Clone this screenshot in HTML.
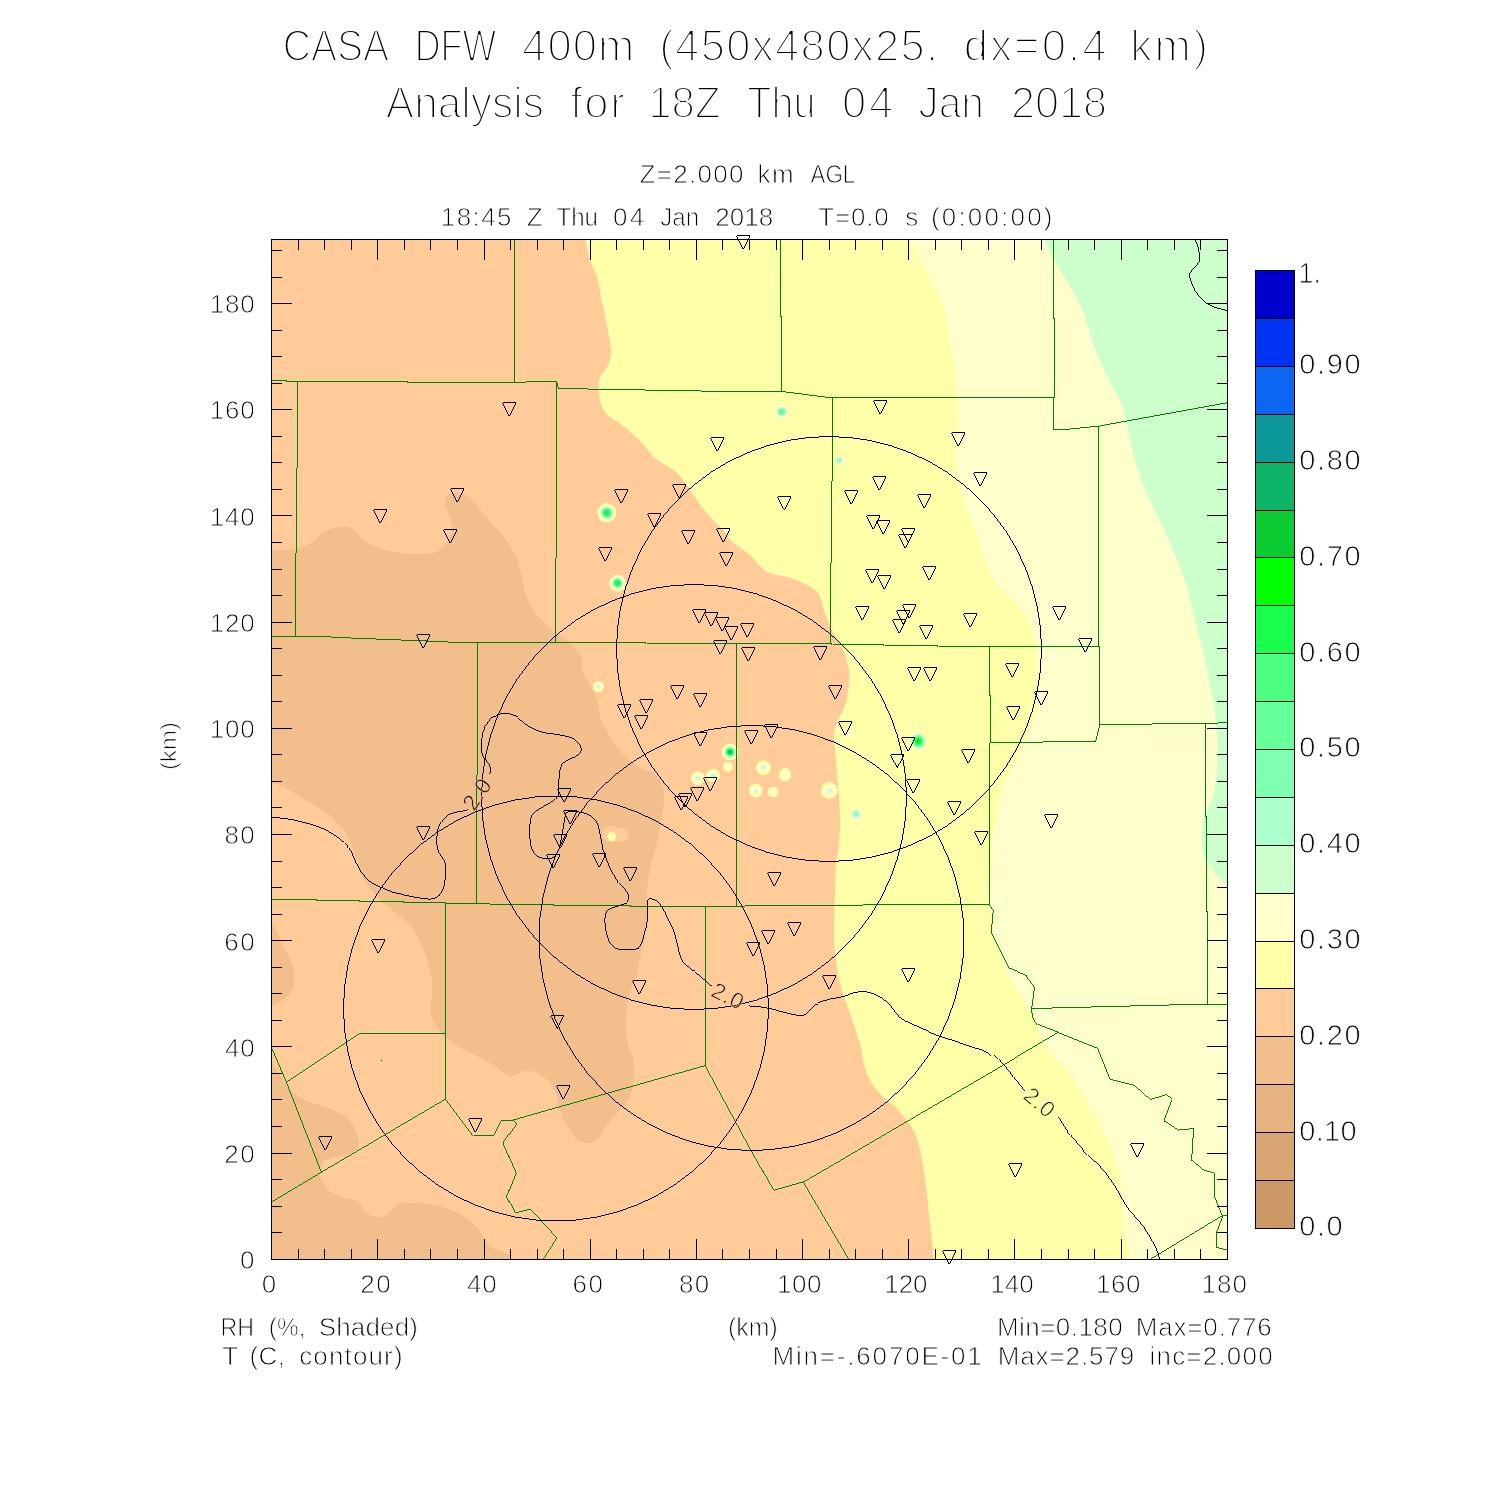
<!DOCTYPE html>
<html lang="en"><head><meta charset="utf-8"><title>CASA DFW 400m Analysis</title>
<style>
html,body{margin:0;padding:0;background:#fff;}
body{width:1500px;height:1500px;overflow:hidden;}
svg{display:block;}
text{font-family:"Liberation Sans",sans-serif;fill:#000;font-kerning:none;white-space:pre;}
.cl{fill:none;stroke:#007f00;stroke-width:0.999;shape-rendering:crispEdges;}
.bk{fill:none;stroke:#000;stroke-width:0.999;shape-rendering:crispEdges;}
.tk{stroke:#000;stroke-width:1;shape-rendering:crispEdges;}
.tr{fill:none;stroke:#000;stroke-width:0.999;shape-rendering:crispEdges;}
</style></head><body>
<svg width="1500" height="1500" viewBox="0 0 1500 1500">
<rect width="1500" height="1500" fill="#fff"/>
<defs><clipPath id="pc"><rect x="271" y="239" width="957" height="1021"/></clipPath>
<radialGradient id="gg"><stop offset="0" stop-color="#10e840"/><stop offset="0.3" stop-color="#40f070"/><stop offset="0.55" stop-color="#99ffc4"/><stop offset="0.66" stop-color="#ccffcc"/><stop offset="0.7" stop-color="#ffffcc"/><stop offset="0.8" stop-color="#ffffaa"/><stop offset="1" stop-color="#ffffaa"/></radialGradient>
<radialGradient id="gG"><stop offset="0" stop-color="#00a050"/><stop offset="0.15" stop-color="#00c840"/><stop offset="0.3" stop-color="#20f050"/><stop offset="0.55" stop-color="#99ffc4"/><stop offset="0.66" stop-color="#ccffcc"/><stop offset="0.7" stop-color="#ffffcc"/><stop offset="0.8" stop-color="#ffffaa"/><stop offset="1" stop-color="#ffffaa"/></radialGradient>
<radialGradient id="ga"><stop offset="0" stop-color="#b8ffd8"/><stop offset="0.25" stop-color="#ccffcc"/><stop offset="0.35" stop-color="#ffffcc"/><stop offset="0.6" stop-color="#ffffcc"/><stop offset="0.68" stop-color="#ffffaa"/><stop offset="1" stop-color="#ffffaa"/></radialGradient>
<radialGradient id="gy"><stop offset="0" stop-color="#ffffcc"/><stop offset="0.45" stop-color="#ffffcc"/><stop offset="0.55" stop-color="#ffffaa"/><stop offset="1" stop-color="#ffffaa"/></radialGradient>
<radialGradient id="gt"><stop offset="0" stop-color="#66eea0"/><stop offset="0.4" stop-color="#80f5b0"/><stop offset="0.6" stop-color="#aaffcc"/><stop offset="0.75" stop-color="#ccffcc"/><stop offset="0.8" stop-color="#ffffcc"/><stop offset="1" stop-color="#ffffcc"/></radialGradient>
<radialGradient id="gt2"><stop offset="0" stop-color="#99f0c0"/><stop offset="0.5" stop-color="#aaffcc"/><stop offset="0.65" stop-color="#ccffcc"/><stop offset="0.75" stop-color="#ffffcc"/><stop offset="1" stop-color="#ffffcc"/></radialGradient>
<radialGradient id="gw"><stop offset="0" stop-color="#ffffcc"/><stop offset="1" stop-color="#ffffcc"/></radialGradient>
<radialGradient id="ggy"><stop offset="0" stop-color="#00e000"/><stop offset="0.25" stop-color="#10f030"/><stop offset="0.5" stop-color="#60f890"/><stop offset="0.75" stop-color="#aaffcc"/><stop offset="0.87" stop-color="#ccffcc"/><stop offset="0.9" stop-color="#ffffcc"/><stop offset="1" stop-color="#ffffcc"/></radialGradient>
<radialGradient id="go"><stop offset="0" stop-color="#ffcc99"/><stop offset="1" stop-color="#ffcc99"/></radialGradient>
<radialGradient id="gyy"><stop offset="0" stop-color="#ffffaa"/><stop offset="1" stop-color="#ffffaa"/></radialGradient>
</defs>
<g clip-path="url(#pc)">
<rect x="271" y="239" width="957" height="1021" fill="#ffcc99"/>
<path d="M269,550C271.4,550.0 278.1,550.4 283.3,550C288.5,549.6 295.0,548.9 300,547.5C305.0,546.1 309.7,544.1 313.3,541.7C316.9,539.3 318.4,535.5 321.7,533.3C325.0,531.1 329.1,529.3 333.3,528.3C337.5,527.2 343.1,526.6 346.7,527C350.3,527.4 352.2,528.6 355,530.8C357.8,533.0 360.0,537.4 363.3,540C366.6,542.6 370.3,544.8 375,546.7C379.7,548.7 386.1,550.5 391.7,551.7C397.2,552.9 402.8,553.4 408.3,553.7C413.9,554.0 420.3,554.0 425,553.7C429.7,553.4 433.4,553.2 436.7,551.7C440.0,550.2 442.8,547.5 445,545C447.2,542.5 448.9,540.0 450,536.7C451.1,533.4 452.0,528.9 451.7,525C451.4,521.1 449.4,516.6 448.3,513.3C447.2,510.0 445.4,507.8 445,505C444.6,502.2 444.7,498.8 445.8,496.7C446.9,494.6 449.1,493.1 451.7,492.5C454.3,491.9 458.4,492.1 461.7,493.3C465.0,494.6 468.1,496.7 471.7,500C475.3,503.3 480.0,509.4 483.3,513.3C486.6,517.2 488.9,520.2 491.7,523.3C494.5,526.4 495.8,525.9 500,531.7C504.2,537.5 512.0,546.6 516.7,558.3C521.4,570.0 523.3,590.6 528.3,601.7C533.3,612.8 539.8,618.1 546.7,625C553.7,631.9 564.2,637.8 570,643.3C575.8,648.8 579.6,653.6 581.7,658.3C583.8,663.0 581.1,667.2 582.5,671.7C583.9,676.2 587.4,679.7 590,685C592.6,690.3 596.6,698.0 598.3,703.3C600.0,708.6 599.1,713.1 600,716.7C600.9,720.3 601.6,720.8 603.8,725C606.0,729.2 609.5,736.2 613.3,741.7C617.1,747.2 622.0,753.9 626.7,758.3C631.4,762.7 637.3,765.8 641.7,768.3C646.1,770.8 650.0,770.8 653.3,773.3C656.6,775.8 659.9,779.4 661.7,783.3C663.5,787.2 664.1,792.0 664.2,796.7C664.3,801.4 663.2,806.4 662.5,811.7C661.8,817.0 661.0,822.8 660,828.3C659.0,833.8 658.1,839.4 656.7,845C655.3,850.6 653.1,856.2 651.7,861.7C650.3,867.2 649.1,872.8 648.3,878.3C647.5,883.8 646.8,890.0 646.7,895C646.6,900.0 647.5,903.3 647.5,908.3C647.5,913.3 647.2,919.4 646.7,925C646.2,930.6 645.3,936.2 644.2,941.7C643.1,947.2 641.2,952.8 640,958.3C638.8,963.8 638.4,969.4 636.7,975C635.0,980.6 631.7,986.2 630,991.7C628.3,997.2 627.3,1001.9 626.7,1008.3C626.1,1014.7 626.0,1023.6 626.3,1030C626.6,1036.4 627.1,1042.0 628.3,1046.7C629.5,1051.4 632.3,1053.6 633.3,1058.3C634.3,1063.0 634.5,1069.4 634.2,1075C633.9,1080.6 633.0,1087.0 631.7,1091.7C630.5,1096.4 629.2,1099.7 626.7,1103.3C624.2,1106.9 620.0,1109.7 616.7,1113.3C613.4,1116.9 609.5,1121.1 606.7,1125C603.9,1128.9 602.2,1133.9 600,1136.7C597.8,1139.5 595.8,1140.7 593.3,1141.7C590.8,1142.8 587.8,1143.4 585,1143C582.2,1142.6 579.2,1141.4 576.7,1139.2C574.2,1137.0 572.2,1133.5 570,1130C567.8,1126.5 565.1,1121.9 563.3,1118.3C561.5,1114.7 560.3,1111.9 559.2,1108.3C558.1,1104.7 558.0,1100.6 556.7,1096.7C555.5,1092.8 553.9,1088.3 551.7,1085C549.5,1081.7 546.4,1078.9 543.3,1076.7C540.2,1074.5 536.6,1072.6 533.3,1071.7C530.0,1070.8 526.1,1070.8 523.3,1071.3C520.5,1071.8 518.9,1074.2 516.7,1075C514.5,1075.8 512.8,1077.1 510,1076.3C507.2,1075.5 503.1,1072.0 500,1070C496.9,1068.0 495.9,1066.5 491.7,1064C487.5,1061.5 480.6,1057.9 475,1055C469.4,1052.1 463.9,1050.3 458.3,1046.7C452.8,1043.1 445.9,1037.5 441.7,1033.3C437.5,1029.1 435.1,1025.9 433.3,1021.7C431.5,1017.5 430.9,1013.9 430.8,1008.3C430.7,1002.7 432.5,993.8 432.5,988.3C432.5,982.8 431.8,980.0 430.8,975C429.8,970.0 428.5,963.8 426.7,958.3C424.9,952.8 422.8,947.2 420,941.7C417.2,936.2 413.9,929.7 410,925C406.1,920.3 401.1,916.9 396.7,913.3C392.2,909.7 387.8,907.5 383.3,903.3C378.9,899.1 373.6,893.0 370,888.3C366.4,883.6 363.9,880.0 361.7,875C359.5,870.0 358.6,863.8 356.7,858.3C354.8,852.8 352.2,846.4 350,841.7C347.8,837.0 346.1,833.9 343.3,830C340.5,826.1 337.7,822.2 333.3,818.3C328.9,814.4 322.2,810.3 316.7,806.7C311.1,803.1 305.6,800.0 300,796.7C294.4,793.4 288.5,789.2 283.3,786.7C278.1,784.2 271.4,782.8 269,782Z" fill="#f2bf8c" shape-rendering="crispEdges"/>
<path d="M269,920C270.5,922.2 275.7,928.5 278,933C280.3,937.5 281.0,942.8 283,947C285.0,951.2 288.2,954.7 290,958C291.8,961.3 292.8,964.2 293.5,967C294.2,969.8 294.2,972.0 294.2,975C294.2,978.0 294.4,982.0 293.7,985C293.0,988.0 291.7,990.8 290,993.3C288.3,995.8 285.5,998.3 283.3,1000C281.1,1001.7 279.1,1002.4 276.7,1003.3C274.3,1004.2 270.3,1005.1 269,1005.5Z" fill="#f2bf8c" shape-rendering="crispEdges"/>
<path d="M269,1056C270.8,1059.2 276.2,1069.0 280,1075C283.8,1081.0 287.0,1087.2 291.7,1091.7C296.4,1096.2 302.8,1099.2 308.3,1101.7C313.9,1104.2 319.7,1104.8 325,1106.7C330.3,1108.6 335.8,1110.8 340,1113.3C344.2,1115.8 347.2,1118.4 350,1121.7C352.8,1125.0 355.2,1129.7 356.7,1133.3C358.2,1136.9 359.2,1140.5 359.2,1143.3C359.2,1146.1 358.8,1148.0 356.7,1150C354.6,1152.0 350.6,1153.8 346.7,1155C342.8,1156.2 337.2,1156.4 333.3,1157.5C329.4,1158.6 325.5,1159.3 323.3,1161.7C321.1,1164.1 320.3,1168.7 320,1171.7C319.7,1174.8 320.3,1177.0 321.7,1180C323.1,1183.0 325.2,1187.2 328.3,1190C331.4,1192.8 335.8,1195.2 340,1196.7C344.2,1198.2 350.0,1198.1 353.3,1199.2C356.6,1200.3 358.1,1201.2 360,1203.3C361.9,1205.4 362.8,1209.5 365,1211.7C367.2,1213.9 370.2,1215.9 373.3,1216.7C376.4,1217.5 380.5,1217.5 383.3,1216.7C386.1,1215.9 387.8,1213.7 390,1211.7C392.2,1209.8 393.6,1206.5 396.7,1205C399.8,1203.5 403.6,1203.2 408.3,1203C413.0,1202.8 419.4,1203.1 425,1203.7C430.6,1204.3 436.1,1205.1 441.7,1206.7C447.2,1208.3 453.3,1210.8 458.3,1213.3C463.3,1215.8 468.1,1218.6 471.7,1221.7C475.3,1224.8 477.3,1228.1 480,1232C482.7,1235.9 485.2,1240.2 488,1245C490.8,1249.8 533.5,1258.3 497,1261C460.5,1263.7 307.0,1261.0 269,1261Z" fill="#f2bf8c" shape-rendering="crispEdges"/>
<path d="M585,237C585.8,240.8 588.0,253.3 590,260C592.0,266.7 594.8,269.2 597,277C599.2,284.8 601.2,298.2 603,307C604.8,315.8 606.7,322.3 608,330C609.3,337.7 611.2,346.8 611,353C610.8,359.2 608.8,363.0 607,367C605.2,371.0 601.3,372.7 600,377C598.7,381.3 598.7,388.0 599,393C599.3,398.0 600.2,403.0 602,407C603.8,411.0 606.7,414.0 610,417C613.3,420.0 616.8,420.8 622,425C627.2,429.2 635.5,436.5 641,442C646.5,447.5 648.7,452.5 655,458C661.3,463.5 671.1,466.7 679,475C686.9,483.3 695.2,498.8 702.5,508C709.8,517.2 718.0,524.4 723,530C728.0,535.6 728.0,537.5 732.5,541.7C737.0,545.9 744.3,550.0 750,555C755.7,560.0 759.8,567.8 766.7,571.7C773.7,575.6 783.4,575.0 791.7,578.3C800.0,581.6 811.2,585.9 816.7,591.7C822.2,597.5 822.2,606.4 825,613.3C827.8,620.2 830.2,627.2 833.3,633.3C836.3,639.4 840.6,643.6 843.3,650C845.9,656.4 848.6,663.4 849.2,671.7C849.8,680.0 848.5,692.0 846.7,700C844.9,708.0 840.2,715.2 838.3,720C836.3,724.8 835.7,726.0 835,729C834.3,732.0 834.1,733.4 834.2,738.3C834.3,743.2 835.2,751.6 835.8,758.3C836.3,765.0 836.9,771.3 837.5,778.3C838.1,785.2 838.8,792.2 839.2,800C839.6,807.8 840.1,816.7 840,825C839.9,833.3 839.0,843.0 838.3,850C837.6,857.0 836.3,859.8 835.8,866.7C835.2,873.7 835.3,883.4 835,891.7C834.7,900.0 834.3,908.4 834.2,916.7C834.1,925.0 833.9,934.8 834.2,941.7C834.5,948.6 835.1,952.8 835.8,958.3C836.5,963.8 837.3,970.0 838.3,975C839.3,980.0 840.5,983.8 841.7,988.3C843.0,992.8 844.1,996.7 845.8,1001.7C847.5,1006.7 849.9,1013.0 851.7,1018.3C853.5,1023.6 855.2,1028.6 856.7,1033.3C858.2,1038.0 859.7,1042.0 860.8,1046.7C861.9,1051.4 862.0,1056.7 863.3,1061.7C864.5,1066.7 866.1,1072.0 868.3,1076.7C870.5,1081.4 873.6,1086.1 876.7,1090C879.8,1093.9 883.4,1097.0 886.7,1100C890.0,1103.0 893.7,1105.2 896.7,1108.3C899.8,1111.3 902.2,1114.7 905,1118.3C907.8,1121.9 911.1,1125.8 913.3,1130C915.5,1134.2 916.9,1138.6 918.3,1143.3C919.7,1148.0 920.6,1152.5 921.7,1158.3C922.8,1164.1 924.0,1171.6 925,1178.3C926.0,1185.0 926.8,1191.9 927.5,1198.3C928.2,1204.7 928.5,1209.8 929.2,1216.7C930.0,1223.7 931.2,1232.6 932,1240C932.8,1247.4 933.7,1257.5 934,1261L1229,1261L1229,237Z" fill="#ffffaa"/>
<path d="M909,237C910.3,239.7 913.7,246.7 917,253C920.3,259.3 924.5,265.8 929,275C933.5,284.2 940.5,296.9 944,308C947.5,319.1 948.1,330.5 950,341.7C951.9,352.9 954.0,363.9 955.3,375C956.5,386.1 957.3,396.9 957.5,408C957.7,419.1 956.9,431.4 956.7,441.7C956.5,452.0 955.8,462.4 956.3,470C956.8,477.6 958.2,480.3 960,487C961.8,493.7 964.2,502.3 967,510C969.8,517.7 974.3,525.8 977,533C979.7,540.2 980.8,546.3 983,553C985.2,559.7 987.2,567.1 990,573C992.8,578.9 995.5,583.0 1000,588.3C1004.5,593.6 1012.1,600.0 1016.7,605C1021.3,610.0 1024.7,613.3 1027.5,618.3C1030.3,623.3 1031.9,629.7 1033.3,635C1034.7,640.3 1035.1,643.3 1035.8,650C1036.5,656.7 1037.1,668.0 1037.5,675C1037.9,682.0 1038.6,684.8 1038.3,691.7C1038.0,698.7 1036.8,711.2 1035.8,716.7C1034.8,722.2 1034.3,720.8 1032.5,725C1030.7,729.2 1027.6,736.2 1025,741.7C1022.4,747.2 1019.5,752.8 1016.7,758.3C1013.9,763.8 1011.1,768.6 1008.3,775C1005.5,781.4 1002.2,788.4 1000,796.7C997.8,805.0 996.2,817.5 995,825C993.8,832.5 993.2,834.8 992.5,841.7C991.8,848.7 991.2,856.3 990.8,866.7C990.4,877.1 989.8,895.1 990,904C990.2,912.9 991.7,915.2 992,920C992.3,924.8 990.7,927.7 992,933C993.3,938.3 997.3,945.0 1000,952C1002.7,959.0 1005.5,969.0 1008.3,975C1011.1,981.0 1013.6,983.3 1016.7,988.3C1019.8,993.3 1023.4,998.9 1026.7,1005C1030.0,1011.1 1033.1,1017.5 1036.7,1025C1040.3,1032.5 1043.9,1043.0 1048.3,1050C1052.7,1057.0 1058.6,1061.2 1063.3,1066.7C1068.0,1072.2 1072.5,1076.9 1076.7,1083.3C1080.9,1089.7 1084.4,1098.0 1088.3,1105C1092.2,1112.0 1096.4,1118.3 1100,1125C1103.6,1131.7 1107.2,1138.6 1110,1145C1112.8,1151.4 1114.9,1156.9 1116.7,1163.3C1118.5,1169.7 1119.8,1175.8 1120.8,1183.3C1121.8,1190.8 1121.8,1200.5 1122.5,1208.3C1123.2,1216.1 1123.6,1221.2 1125,1230C1126.4,1238.8 1130.0,1255.8 1131,1261L1229,1261L1229,237Z" fill="#ffffcc"/>
<path d="M1043,237C1044.7,240.3 1049.7,250.7 1053,257C1056.3,263.3 1058.2,266.5 1063,275C1067.8,283.5 1076.8,296.9 1081.7,308C1086.6,319.1 1088.3,330.5 1092.5,341.7C1096.7,352.9 1101.6,363.9 1106.7,375C1111.8,386.1 1119.4,397.2 1123.3,408C1127.2,418.8 1127.7,430.0 1130,440C1132.3,450.0 1134.8,460.5 1137,468C1139.2,475.5 1140.8,479.7 1143,485C1145.2,490.3 1147.2,493.9 1150,500C1152.8,506.1 1156.4,513.9 1160,521.7C1163.6,529.5 1168.1,538.4 1171.7,546.7C1175.3,555.0 1178.9,564.2 1181.7,571.7C1184.5,579.2 1186.4,584.8 1188.3,591.7C1190.2,598.6 1191.3,605.2 1193.3,613.3C1195.2,621.3 1197.9,631.7 1200,640C1202.1,648.3 1204.0,655.2 1205.8,663.3C1207.6,671.3 1209.3,680.2 1210.8,688.3C1212.3,696.4 1214.0,705.6 1215,711.7C1216.0,717.8 1216.3,717.2 1216.7,725C1217.1,732.8 1217.7,748.6 1217.5,758.3C1217.3,768.0 1216.8,776.3 1215.8,783.3C1214.8,790.2 1213.4,795.0 1211.7,800C1210.0,805.0 1207.3,808.6 1205.8,813.3C1204.3,818.0 1203.1,823.6 1202.5,828.3C1201.9,833.0 1201.7,837.2 1202,841.7C1202.3,846.2 1202.9,850.8 1204.2,855C1205.5,859.2 1207.7,863.1 1210,866.7C1212.3,870.3 1215.1,873.3 1218.3,876.7C1221.5,880.1 1227.2,885.3 1229,887L1229,237Z" fill="#ccffcc"/>
<circle cx="606.8" cy="512.8" r="9.6" fill="url(#gg)" shape-rendering="crispEdges"/>
<circle cx="617.6" cy="583.2" r="8.4" fill="url(#gg)" shape-rendering="crispEdges"/>
<circle cx="598.3" cy="686.7" r="5.5" fill="url(#ga)" shape-rendering="crispEdges"/>
<circle cx="781.7" cy="411.7" r="6.5" fill="url(#gt)" shape-rendering="crispEdges"/>
<circle cx="839.2" cy="460.3" r="5" fill="url(#gt2)" shape-rendering="crispEdges"/>
<circle cx="730" cy="752" r="8.5" fill="url(#gG)" shape-rendering="crispEdges"/>
<circle cx="728" cy="766.7" r="5" fill="url(#gy)" shape-rendering="crispEdges"/>
<circle cx="698" cy="778.3" r="7" fill="url(#ga)" shape-rendering="crispEdges"/>
<circle cx="713" cy="775.6" r="7" fill="url(#ga)" shape-rendering="crispEdges"/>
<circle cx="763.3" cy="767.7" r="7.5" fill="url(#ga)" shape-rendering="crispEdges"/>
<circle cx="785" cy="774.7" r="6.5" fill="url(#gy)" shape-rendering="crispEdges"/>
<circle cx="755.7" cy="790.7" r="7" fill="url(#ga)" shape-rendering="crispEdges"/>
<circle cx="773" cy="792" r="5.5" fill="url(#gy)" shape-rendering="crispEdges"/>
<circle cx="829.3" cy="790.4" r="8.5" fill="url(#ga)" shape-rendering="crispEdges"/>
<circle cx="851.3" cy="733.3" r="4" fill="url(#gw)" shape-rendering="crispEdges"/>
<circle cx="856" cy="814" r="6" fill="url(#gt2)" shape-rendering="crispEdges"/>
<circle cx="918.2" cy="741.2" r="8.5" fill="url(#ggy)" shape-rendering="crispEdges"/>
<circle cx="611" cy="834" r="8.5" fill="url(#go)" shape-rendering="crispEdges"/>
<circle cx="621" cy="835" r="7" fill="url(#go)" shape-rendering="crispEdges"/>
<circle cx="611.5" cy="836.5" r="4.3" fill="url(#gyy)" shape-rendering="crispEdges"/>
<g class="cl" transform="translate(0.5,0.5)">
<polyline points="271,380 286,380 286,381 407,381 407,382 525,382 525,381 556,381"/>
<polyline points="556,381 557,382 558,388 615,389 671,390 727,391 781,391 827,397 1053,397"/>
<polyline points="514,239 514,382"/>
<polyline points="297,381 297,467 296,467 296,552 295,552 295,636"/>
<polyline points="556,381 556,557 555,557 555,642"/>
<polyline points="271,636 322,636 336,637 362,638 387,639 412,640 439,641 453,642 645,642 646,643 831,643 832,644 883,644 884,645 937,645 938,646 1098,646"/>
<polyline points="477,642 477,774 476,774 476,903"/>
<polyline points="736,643 736,906"/>
<polyline points="780,239 780,316 781,316 781,391"/>
<polyline points="1053,239 1053,318 1054,318 1054,397 1053,397 1053,429"/>
<polyline points="1053,429 1063,429 1098,425.5 1227,402"/>
<polyline points="1098,425 1098,646 1099,646 1099,724"/>
<polyline points="832,397 832,480 831,480 831,562 830,562 830,643"/>
<polyline points="989,646 989,695 990,695 990,742"/>
<polyline points="989,742 989,904"/>
<polyline points="990,742 1041,742 1042,741 1095,741 1099,724 1150,724 1151,723 1205,723 1227,722"/>
<polyline points="1205,723 1205,816 1206,816 1206,911 1207,911 1207,1003"/>
<polyline points="1031,1008 1207,1003.5 1227,1003.5"/>
<polyline points="271,899 316,899 316,900 359,900 359,901 403,901 403,902 445,902 445,903 476,903 500,904 553,904 553,905 630,905 630,906 736,906 750,905 861,905 862,904 989,904"/>
<polyline points="989,904 993,909 992,913 991,932 1000,950 1009,968 1026,975 1034,986 1031,1008 1032.5,1017 1037,1024 1057.5,1032 1097.5,1048 1110,1079 1133,1085 1149,1099 1165,1094 1171,1099 1163,1120.5 1177,1129.5 1193,1128 1191,1160 1201,1169 1214,1173 1214,1195 1222,1215 1227,1215"/>
<polyline points="1222,1215 1216,1231 1216,1247 1227,1250"/>
<polyline points="1222,1215 1149.5,1259"/>
<polyline points="1057.5,1032 803,1181 773,1189.5 750,1148 705,1065"/>
<polyline points="803,1181 849,1259"/>
<polyline points="445,903 445,1098"/>
<polyline points="705,906 705,1065"/>
<polyline points="358,1033 445,1033"/>
<polyline points="358,1033 286,1081"/>
<polyline points="271,1046 286,1081 321,1171"/>
<polyline points="445,1098 321,1171 271,1201"/>
<polyline points="445,1098 473,1135 492.5,1135 500,1120 512.5,1120"/>
<polyline points="512.5,1120 516,1123 502.5,1142 515.5,1172 506,1196 515,1212 530,1208.5 556,1237 542,1259"/>
<polyline points="512.5,1119.5 705,1065"/>
</g>
<g class="bk" transform="translate(0.5,0.5)">
<circle cx="828.5" cy="648.5" r="212.5"/>
<circle cx="693.5" cy="796.5" r="212.5"/>
<circle cx="751" cy="937.5" r="212.5"/>
<circle cx="555.5" cy="1008" r="212.5"/>
<path d="M271,816.7C274.4,817.1 284.1,817.7 291.7,819.2C299.3,820.7 309.8,823.3 316.7,825.8C323.6,828.3 328.3,831.0 333.3,834.2C338.3,837.4 343.4,841.2 346.7,845C350.0,848.8 351.1,852.5 353.3,856.7C355.5,860.9 357.5,866.1 360,870C362.5,873.9 365.0,877.2 368.3,880C371.6,882.8 375.6,884.6 380,886.7C384.4,888.8 390.0,891.0 395,892.5C400.0,894.0 405.0,894.8 410,895.8C415.0,896.8 421.1,897.9 425,898.3C428.9,898.7 430.8,898.8 433.3,898C435.8,897.2 438.2,896.0 440,893.3C441.8,890.6 443.4,886.7 444.2,881.7C445.0,876.7 445.7,868.3 444.7,863.3C443.7,858.3 439.7,855.3 438.3,851.7C436.9,848.1 436.4,845.6 436.3,841.7C436.2,837.8 436.6,831.9 437.5,828.3C438.4,824.7 439.6,822.5 441.7,820C443.8,817.5 446.9,814.8 450,813.3C453.1,811.8 457.1,811.5 460,810.8C462.9,810.1 466.2,809.5 467.5,809.3"/>
<path d="M489.3,773.7C489.4,772.5 490.2,769.0 489.7,766.7C489.1,764.4 487.3,762.0 486,760C484.7,758.0 482.8,756.9 482,754.7C481.2,752.5 481.1,749.2 481,746.7C480.9,744.2 481.1,742.3 481.3,740C481.5,737.7 481.6,735.2 482,733C482.4,730.8 483.2,728.8 484,727C484.8,725.2 485.5,723.8 487,722C488.5,720.2 490.3,717.5 493,716C495.7,714.5 499.5,713.2 503,713C506.5,712.8 510.1,713.0 514,715C518.0,717.0 522.1,722.2 526.7,725C531.3,727.8 536.4,730.2 541.7,731.7C547.0,733.2 553.3,733.2 558.3,734.2C563.3,735.2 568.4,736.0 571.7,737.5C575.0,739.0 576.8,741.3 578.3,743.3C579.8,745.2 581.1,747.2 580.8,749.2C580.5,751.2 579.1,753.2 576.7,755C574.4,756.8 569.4,758.3 566.7,760C564.1,761.7 562.1,762.5 560.8,765C559.5,767.5 559.2,771.1 558.7,775C558.2,778.9 558.2,785.0 558,788.3C557.8,791.6 558.3,793.0 557.5,795C556.7,797.0 555.9,798.0 553.3,800C550.7,802.0 545.2,804.5 541.7,806.7C538.2,808.9 534.5,810.8 532.5,813.3C530.5,815.8 530.2,818.4 529.7,821.7C529.2,825.0 529.0,829.1 529.2,833.3C529.4,837.5 529.7,843.1 530.8,846.7C531.9,850.3 533.4,853.1 535.8,855C538.2,856.9 542.1,857.7 545,858C547.9,858.3 551.1,858.3 553.3,856.7C555.5,855.1 556.9,852.2 558.3,848.3C559.7,844.4 560.7,838.3 561.7,833.3C562.7,828.3 563.4,821.9 564.2,818.3C565.0,814.7 564.6,812.9 566.7,811.7C568.8,810.5 573.1,810.9 576.7,811.3C580.3,811.7 585.1,812.6 588.3,814.2C591.5,815.8 594.0,817.9 595.8,820.8C597.6,823.7 598.2,827.7 599.2,831.7C600.2,835.7 600.7,840.8 601.7,845C602.7,849.2 603.6,852.8 605,856.7C606.4,860.6 608.0,864.4 610,868.3C612.0,872.2 614.5,876.8 616.7,880C618.9,883.2 621.5,885.3 623.3,887.5C625.1,889.7 626.7,891.5 627.5,893.3C628.3,895.1 628.7,896.8 628.3,898.3C627.9,899.8 626.9,901.2 625,902.5C623.1,903.8 619.5,904.7 616.7,905.8C613.9,906.9 610.3,907.7 608.3,909.2C606.3,910.7 605.3,912.4 604.7,915C604.1,917.6 604.4,921.7 604.7,925C605.0,928.3 605.7,931.8 606.7,935C607.7,938.2 608.9,941.9 610.8,944.2C612.7,946.5 614.5,947.9 618.3,948.7C622.0,949.5 629.8,949.4 633.3,949C636.8,948.6 637.7,948.0 639.2,946.2C640.7,944.4 641.4,941.8 642.5,938.3C643.6,934.8 645.0,929.2 645.8,925C646.6,920.8 647.4,917.2 647.5,913.3C647.6,909.4 646.3,904.2 646.7,901.7C647.1,899.2 648.3,898.4 650,898.3C651.7,898.1 654.6,899.1 656.7,900.8C658.8,902.5 660.8,905.6 662.5,908.3C664.2,910.9 665.2,913.6 666.7,916.7C668.2,919.8 670.3,923.4 671.7,926.7C673.1,930.0 673.9,932.8 675,936.7C676.1,940.6 677.2,946.1 678.3,950C679.4,953.9 680.0,957.2 681.7,960C683.4,962.8 685.8,964.5 688.3,966.7C690.8,968.9 692.9,970.1 696.7,973.3C700.5,976.5 708.9,983.6 711.3,985.7"/>
<path d="M748,1005.3C751.1,1005.7 760.8,1006.4 766.7,1007.5C772.6,1008.6 778.6,1010.5 783.3,1011.7C788.0,1012.9 791.5,1014.1 795,1014.5C798.5,1014.9 800.9,1015.9 804.2,1014.2C807.5,1012.5 811.5,1006.6 815,1004.2C818.5,1001.8 820.3,1001.1 825,999.7C829.7,998.3 838.6,997.0 843.3,995.8C848.0,994.5 849.7,993.0 853.3,992.2C856.9,991.5 860.8,990.7 865,991.3C869.2,991.9 874.4,993.8 878.3,995.8C882.2,997.8 885.5,1000.6 888.3,1003.3C891.1,1005.9 892.8,1009.1 895,1011.7C897.2,1014.3 898.1,1016.4 901.7,1018.7C905.3,1021.1 911.7,1023.4 916.7,1025.8C921.7,1028.2 926.2,1030.8 931.7,1033C937.2,1035.2 944.2,1037.2 950,1039.2C955.8,1041.2 961.2,1043.2 966.7,1045C972.2,1046.8 979.4,1048.7 983.3,1050.3C987.2,1051.9 988.9,1054.0 990,1054.7"/>
<path d="M993.3,1054.7C994.4,1055.7 996.9,1057.1 1000,1060.5C1003.1,1063.9 1007.9,1070.0 1012,1075C1016.1,1080.0 1022.3,1087.8 1024.4,1090.4"/>
<path d="M1058,1116.3C1059.5,1118.6 1062.5,1124.4 1066.7,1130C1070.9,1135.6 1077.5,1143.6 1083.3,1150C1089.1,1156.4 1096.4,1162.2 1101.7,1168.3C1107.0,1174.4 1110.8,1180.3 1115,1186.7C1119.2,1193.1 1122.0,1200.0 1126.7,1206.7C1131.4,1213.4 1138.6,1220.0 1143.3,1226.7C1148.0,1233.4 1152.3,1241.3 1155,1246.7C1157.7,1252.1 1158.6,1257.2 1159.3,1259.3"/>
<path d="M1194.7,239C1195.3,240.8 1197.6,246.4 1198.3,250C1199.0,253.6 1200.1,257.2 1198.7,260.8C1197.3,264.4 1191.6,269.1 1190,271.7C1188.4,274.3 1188.2,273.4 1189.2,276.7C1190.2,280.0 1193.0,287.4 1195.8,291.7C1198.6,296.0 1202.3,299.9 1205.8,302.5C1209.3,305.1 1213.1,306.2 1216.7,307.5C1220.3,308.8 1225.7,309.8 1227.5,310.3"/>
</g>
<text transform="translate(477,794) rotate(-55)" x="-16.48" y="7.75" font-size="22.5" letter-spacing="0.72" stroke="#f2bf8c" stroke-width="0.7">2.0</text>
<text transform="translate(728,996) rotate(27)" x="-16.48" y="7.75" font-size="22.5" letter-spacing="0.72" stroke="#ffcc99" stroke-width="0.7">2.0</text>
<text transform="translate(1039.5,1102.5) rotate(40)" x="-16.48" y="7.75" font-size="22.5" letter-spacing="0.72" stroke="#ffffaa" stroke-width="0.7">2.0</text>
</g>
<rect x="381" y="1060" width="1" height="1" fill="#000" shape-rendering="crispEdges"/>
<g class="tr">
<path d="M502.5,402.5H515.5L509,415.5Z"/>
<path d="M710.5,437.5H723.5L717,450.5Z"/>
<path d="M736.5,235.5H749.5L743,248.5Z"/>
<path d="M873.5,400.5H886.5L880,413.5Z"/>
<path d="M951.5,432.5H964.5L958,445.5Z"/>
<path d="M373.5,509.5H386.5L380,522.5Z"/>
<path d="M450.5,488.5H463.5L457,501.5Z"/>
<path d="M443.5,529.5H456.5L450,542.5Z"/>
<path d="M416.5,634.5H429.5L423,647.5Z"/>
<path d="M614.5,489.5H627.5L621,502.5Z"/>
<path d="M672.5,484.5H685.5L679,497.5Z"/>
<path d="M647.5,513.5H660.5L654,526.5Z"/>
<path d="M681.5,530.5H694.5L688,543.5Z"/>
<path d="M716.5,528.5H729.5L723,541.5Z"/>
<path d="M598.5,547.5H611.5L605,560.5Z"/>
<path d="M719.5,552.5H732.5L726,565.5Z"/>
<path d="M692.5,609.5H705.5L699,622.5Z"/>
<path d="M704.5,612.5H717.5L711,625.5Z"/>
<path d="M715.5,617.5H728.5L722,630.5Z"/>
<path d="M724.5,626.5H737.5L731,639.5Z"/>
<path d="M740.5,623.5H753.5L747,636.5Z"/>
<path d="M713.5,640.5H726.5L720,653.5Z"/>
<path d="M741.5,647.5H754.5L748,660.5Z"/>
<path d="M670.5,685.5H683.5L677,698.5Z"/>
<path d="M693.5,693.5H706.5L700,706.5Z"/>
<path d="M639.5,699.5H652.5L646,712.5Z"/>
<path d="M617.5,704.5H630.5L624,717.5Z"/>
<path d="M634.5,715.5H647.5L641,728.5Z"/>
<path d="M872.5,476.5H885.5L879,489.5Z"/>
<path d="M844.5,490.5H857.5L851,503.5Z"/>
<path d="M777.5,496.5H790.5L784,509.5Z"/>
<path d="M917.5,494.5H930.5L924,507.5Z"/>
<path d="M973.5,472.5H986.5L980,485.5Z"/>
<path d="M866.5,515.5H879.5L873,528.5Z"/>
<path d="M876.5,520.5H889.5L883,533.5Z"/>
<path d="M901.5,528.5H914.5L908,541.5Z"/>
<path d="M898.5,534.5H911.5L905,547.5Z"/>
<path d="M865.5,569.5H878.5L872,582.5Z"/>
<path d="M877.5,575.5H890.5L884,588.5Z"/>
<path d="M922.5,566.5H935.5L929,579.5Z"/>
<path d="M855.5,606.5H868.5L862,619.5Z"/>
<path d="M902.5,604.5H915.5L909,617.5Z"/>
<path d="M896.5,610.5H909.5L903,623.5Z"/>
<path d="M892.5,619.5H905.5L899,632.5Z"/>
<path d="M919.5,625.5H932.5L926,638.5Z"/>
<path d="M963.5,613.5H976.5L970,626.5Z"/>
<path d="M813.5,646.5H826.5L820,659.5Z"/>
<path d="M907.5,667.5H920.5L914,680.5Z"/>
<path d="M923.5,667.5H936.5L930,680.5Z"/>
<path d="M828.5,685.5H841.5L835,698.5Z"/>
<path d="M838.5,721.5H851.5L845,734.5Z"/>
<path d="M764.5,724.5H777.5L771,737.5Z"/>
<path d="M1052.5,606.5H1065.5L1059,619.5Z"/>
<path d="M1078.5,638.5H1091.5L1085,651.5Z"/>
<path d="M1005.5,663.5H1018.5L1012,676.5Z"/>
<path d="M1034.5,691.5H1047.5L1041,704.5Z"/>
<path d="M1006.5,706.5H1019.5L1013,719.5Z"/>
<path d="M744.5,730.5H757.5L751,743.5Z"/>
<path d="M693.5,732.5H706.5L700,745.5Z"/>
<path d="M703.5,777.5H716.5L710,790.5Z"/>
<path d="M690.5,787.5H703.5L697,800.5Z"/>
<path d="M678.5,793.5H691.5L685,806.5Z"/>
<path d="M674.5,796.5H687.5L681,809.5Z"/>
<path d="M557.5,788.5H570.5L564,801.5Z"/>
<path d="M563.5,810.5H576.5L570,823.5Z"/>
<path d="M553.5,834.5H566.5L560,847.5Z"/>
<path d="M546.5,854.5H559.5L553,867.5Z"/>
<path d="M592.5,853.5H605.5L599,866.5Z"/>
<path d="M623.5,867.5H636.5L630,880.5Z"/>
<path d="M746.5,942.5H759.5L753,955.5Z"/>
<path d="M416.5,826.5H429.5L423,839.5Z"/>
<path d="M371.5,939.5H384.5L378,952.5Z"/>
<path d="M901.5,737.5H914.5L908,750.5Z"/>
<path d="M890.5,754.5H903.5L897,767.5Z"/>
<path d="M961.5,749.5H974.5L968,762.5Z"/>
<path d="M906.5,779.5H919.5L913,792.5Z"/>
<path d="M947.5,801.5H960.5L954,814.5Z"/>
<path d="M974.5,831.5H987.5L981,844.5Z"/>
<path d="M767.5,872.5H780.5L774,885.5Z"/>
<path d="M787.5,922.5H800.5L794,935.5Z"/>
<path d="M761.5,930.5H774.5L768,943.5Z"/>
<path d="M901.5,968.5H914.5L908,981.5Z"/>
<path d="M1044.5,814.5H1057.5L1051,827.5Z"/>
<path d="M318.5,1136.5H331.5L325,1149.5Z"/>
<path d="M468.5,1118.5H481.5L475,1131.5Z"/>
<path d="M632.5,980.5H645.5L639,993.5Z"/>
<path d="M550.5,1015.5H563.5L557,1028.5Z"/>
<path d="M556.5,1085.5H569.5L563,1098.5Z"/>
<path d="M822.5,975.5H835.5L829,988.5Z"/>
<path d="M1130.5,1143.5H1143.5L1137,1156.5Z"/>
<path d="M1008.5,1163.5H1021.5L1015,1176.5Z"/>
<path d="M942.5,1250.5H955.5L949,1263.5Z"/>
</g>
<g class="tk">
<rect x="271.5" y="239.5" width="956" height="1020" fill="none"/>
<line x1="298.5" y1="239" x2="298.5" y2="250"/>
<line x1="298.5" y1="1260" x2="298.5" y2="1249"/>
<line x1="324.5" y1="239" x2="324.5" y2="250"/>
<line x1="324.5" y1="1260" x2="324.5" y2="1249"/>
<line x1="351.5" y1="239" x2="351.5" y2="250"/>
<line x1="351.5" y1="1260" x2="351.5" y2="1249"/>
<line x1="377.5" y1="239" x2="377.5" y2="260"/>
<line x1="377.5" y1="1260" x2="377.5" y2="1239"/>
<line x1="404.5" y1="239" x2="404.5" y2="250"/>
<line x1="404.5" y1="1260" x2="404.5" y2="1249"/>
<line x1="430.5" y1="239" x2="430.5" y2="250"/>
<line x1="430.5" y1="1260" x2="430.5" y2="1249"/>
<line x1="457.5" y1="239" x2="457.5" y2="250"/>
<line x1="457.5" y1="1260" x2="457.5" y2="1249"/>
<line x1="484.5" y1="239" x2="484.5" y2="260"/>
<line x1="484.5" y1="1260" x2="484.5" y2="1239"/>
<line x1="510.5" y1="239" x2="510.5" y2="250"/>
<line x1="510.5" y1="1260" x2="510.5" y2="1249"/>
<line x1="537.5" y1="239" x2="537.5" y2="250"/>
<line x1="537.5" y1="1260" x2="537.5" y2="1249"/>
<line x1="563.5" y1="239" x2="563.5" y2="250"/>
<line x1="563.5" y1="1260" x2="563.5" y2="1249"/>
<line x1="590.5" y1="239" x2="590.5" y2="260"/>
<line x1="590.5" y1="1260" x2="590.5" y2="1239"/>
<line x1="616.5" y1="239" x2="616.5" y2="250"/>
<line x1="616.5" y1="1260" x2="616.5" y2="1249"/>
<line x1="643.5" y1="239" x2="643.5" y2="250"/>
<line x1="643.5" y1="1260" x2="643.5" y2="1249"/>
<line x1="669.5" y1="239" x2="669.5" y2="250"/>
<line x1="669.5" y1="1260" x2="669.5" y2="1249"/>
<line x1="696.5" y1="239" x2="696.5" y2="260"/>
<line x1="696.5" y1="1260" x2="696.5" y2="1239"/>
<line x1="722.5" y1="239" x2="722.5" y2="250"/>
<line x1="722.5" y1="1260" x2="722.5" y2="1249"/>
<line x1="749.5" y1="239" x2="749.5" y2="250"/>
<line x1="749.5" y1="1260" x2="749.5" y2="1249"/>
<line x1="776.5" y1="239" x2="776.5" y2="250"/>
<line x1="776.5" y1="1260" x2="776.5" y2="1249"/>
<line x1="802.5" y1="239" x2="802.5" y2="260"/>
<line x1="802.5" y1="1260" x2="802.5" y2="1239"/>
<line x1="829.5" y1="239" x2="829.5" y2="250"/>
<line x1="829.5" y1="1260" x2="829.5" y2="1249"/>
<line x1="855.5" y1="239" x2="855.5" y2="250"/>
<line x1="855.5" y1="1260" x2="855.5" y2="1249"/>
<line x1="882.5" y1="239" x2="882.5" y2="250"/>
<line x1="882.5" y1="1260" x2="882.5" y2="1249"/>
<line x1="908.5" y1="239" x2="908.5" y2="260"/>
<line x1="908.5" y1="1260" x2="908.5" y2="1239"/>
<line x1="935.5" y1="239" x2="935.5" y2="250"/>
<line x1="935.5" y1="1260" x2="935.5" y2="1249"/>
<line x1="961.5" y1="239" x2="961.5" y2="250"/>
<line x1="961.5" y1="1260" x2="961.5" y2="1249"/>
<line x1="988.5" y1="239" x2="988.5" y2="250"/>
<line x1="988.5" y1="1260" x2="988.5" y2="1249"/>
<line x1="1014.5" y1="239" x2="1014.5" y2="260"/>
<line x1="1014.5" y1="1260" x2="1014.5" y2="1239"/>
<line x1="1041.5" y1="239" x2="1041.5" y2="250"/>
<line x1="1041.5" y1="1260" x2="1041.5" y2="1249"/>
<line x1="1068.5" y1="239" x2="1068.5" y2="250"/>
<line x1="1068.5" y1="1260" x2="1068.5" y2="1249"/>
<line x1="1094.5" y1="239" x2="1094.5" y2="250"/>
<line x1="1094.5" y1="1260" x2="1094.5" y2="1249"/>
<line x1="1121.5" y1="239" x2="1121.5" y2="260"/>
<line x1="1121.5" y1="1260" x2="1121.5" y2="1239"/>
<line x1="1147.5" y1="239" x2="1147.5" y2="250"/>
<line x1="1147.5" y1="1260" x2="1147.5" y2="1249"/>
<line x1="1174.5" y1="239" x2="1174.5" y2="250"/>
<line x1="1174.5" y1="1260" x2="1174.5" y2="1249"/>
<line x1="1200.5" y1="239" x2="1200.5" y2="250"/>
<line x1="1200.5" y1="1260" x2="1200.5" y2="1249"/>
<line x1="271" y1="1232.5" x2="282" y2="1232.5"/>
<line x1="1228" y1="1232.5" x2="1217" y2="1232.5"/>
<line x1="271" y1="1206.5" x2="282" y2="1206.5"/>
<line x1="1228" y1="1206.5" x2="1217" y2="1206.5"/>
<line x1="271" y1="1179.5" x2="282" y2="1179.5"/>
<line x1="1228" y1="1179.5" x2="1217" y2="1179.5"/>
<line x1="271" y1="1153.5" x2="292" y2="1153.5"/>
<line x1="1228" y1="1153.5" x2="1207" y2="1153.5"/>
<line x1="271" y1="1126.5" x2="282" y2="1126.5"/>
<line x1="1228" y1="1126.5" x2="1217" y2="1126.5"/>
<line x1="271" y1="1099.5" x2="282" y2="1099.5"/>
<line x1="1228" y1="1099.5" x2="1217" y2="1099.5"/>
<line x1="271" y1="1073.5" x2="282" y2="1073.5"/>
<line x1="1228" y1="1073.5" x2="1217" y2="1073.5"/>
<line x1="271" y1="1046.5" x2="292" y2="1046.5"/>
<line x1="1228" y1="1046.5" x2="1207" y2="1046.5"/>
<line x1="271" y1="1020.5" x2="282" y2="1020.5"/>
<line x1="1228" y1="1020.5" x2="1217" y2="1020.5"/>
<line x1="271" y1="993.5" x2="282" y2="993.5"/>
<line x1="1228" y1="993.5" x2="1217" y2="993.5"/>
<line x1="271" y1="967.5" x2="282" y2="967.5"/>
<line x1="1228" y1="967.5" x2="1217" y2="967.5"/>
<line x1="271" y1="940.5" x2="292" y2="940.5"/>
<line x1="1228" y1="940.5" x2="1207" y2="940.5"/>
<line x1="271" y1="914.5" x2="282" y2="914.5"/>
<line x1="1228" y1="914.5" x2="1217" y2="914.5"/>
<line x1="271" y1="887.5" x2="282" y2="887.5"/>
<line x1="1228" y1="887.5" x2="1217" y2="887.5"/>
<line x1="271" y1="861.5" x2="282" y2="861.5"/>
<line x1="1228" y1="861.5" x2="1217" y2="861.5"/>
<line x1="271" y1="834.5" x2="292" y2="834.5"/>
<line x1="1228" y1="834.5" x2="1207" y2="834.5"/>
<line x1="271" y1="807.5" x2="282" y2="807.5"/>
<line x1="1228" y1="807.5" x2="1217" y2="807.5"/>
<line x1="271" y1="781.5" x2="282" y2="781.5"/>
<line x1="1228" y1="781.5" x2="1217" y2="781.5"/>
<line x1="271" y1="754.5" x2="282" y2="754.5"/>
<line x1="1228" y1="754.5" x2="1217" y2="754.5"/>
<line x1="271" y1="728.5" x2="292" y2="728.5"/>
<line x1="1228" y1="728.5" x2="1207" y2="728.5"/>
<line x1="271" y1="701.5" x2="282" y2="701.5"/>
<line x1="1228" y1="701.5" x2="1217" y2="701.5"/>
<line x1="271" y1="675.5" x2="282" y2="675.5"/>
<line x1="1228" y1="675.5" x2="1217" y2="675.5"/>
<line x1="271" y1="648.5" x2="282" y2="648.5"/>
<line x1="1228" y1="648.5" x2="1217" y2="648.5"/>
<line x1="271" y1="622.5" x2="292" y2="622.5"/>
<line x1="1228" y1="622.5" x2="1207" y2="622.5"/>
<line x1="271" y1="595.5" x2="282" y2="595.5"/>
<line x1="1228" y1="595.5" x2="1217" y2="595.5"/>
<line x1="271" y1="569.5" x2="282" y2="569.5"/>
<line x1="1228" y1="569.5" x2="1217" y2="569.5"/>
<line x1="271" y1="542.5" x2="282" y2="542.5"/>
<line x1="1228" y1="542.5" x2="1217" y2="542.5"/>
<line x1="271" y1="515.5" x2="292" y2="515.5"/>
<line x1="1228" y1="515.5" x2="1207" y2="515.5"/>
<line x1="271" y1="489.5" x2="282" y2="489.5"/>
<line x1="1228" y1="489.5" x2="1217" y2="489.5"/>
<line x1="271" y1="462.5" x2="282" y2="462.5"/>
<line x1="1228" y1="462.5" x2="1217" y2="462.5"/>
<line x1="271" y1="436.5" x2="282" y2="436.5"/>
<line x1="1228" y1="436.5" x2="1217" y2="436.5"/>
<line x1="271" y1="409.5" x2="292" y2="409.5"/>
<line x1="1228" y1="409.5" x2="1207" y2="409.5"/>
<line x1="271" y1="383.5" x2="282" y2="383.5"/>
<line x1="1228" y1="383.5" x2="1217" y2="383.5"/>
<line x1="271" y1="356.5" x2="282" y2="356.5"/>
<line x1="1228" y1="356.5" x2="1217" y2="356.5"/>
<line x1="271" y1="330.5" x2="282" y2="330.5"/>
<line x1="1228" y1="330.5" x2="1217" y2="330.5"/>
<line x1="271" y1="303.5" x2="292" y2="303.5"/>
<line x1="1228" y1="303.5" x2="1207" y2="303.5"/>
<line x1="271" y1="277.5" x2="282" y2="277.5"/>
<line x1="1228" y1="277.5" x2="1217" y2="277.5"/>
<line x1="271" y1="250.5" x2="282" y2="250.5"/>
<line x1="1228" y1="250.5" x2="1217" y2="250.5"/>
</g>
<g shape-rendering="crispEdges">
<rect x="1255.5" y="1180.5" width="39" height="48" fill="#cc9966" stroke="#000" stroke-width="1"/>
<rect x="1255.5" y="1132.5" width="39" height="48" fill="#d9a673" stroke="#000" stroke-width="1"/>
<rect x="1255.5" y="1084.5" width="39" height="48" fill="#e6b380" stroke="#000" stroke-width="1"/>
<rect x="1255.5" y="1036.5" width="39" height="48" fill="#f2bf8c" stroke="#000" stroke-width="1"/>
<rect x="1255.5" y="988.5" width="39" height="48" fill="#ffcc99" stroke="#000" stroke-width="1"/>
<rect x="1255.5" y="941.5" width="39" height="47" fill="#ffffaa" stroke="#000" stroke-width="1"/>
<rect x="1255.5" y="893.5" width="39" height="48" fill="#ffffcc" stroke="#000" stroke-width="1"/>
<rect x="1255.5" y="845.5" width="39" height="48" fill="#ccffcc" stroke="#000" stroke-width="1"/>
<rect x="1255.5" y="797.5" width="39" height="48" fill="#aaffcc" stroke="#000" stroke-width="1"/>
<rect x="1255.5" y="749.5" width="39" height="48" fill="#80ffb3" stroke="#000" stroke-width="1"/>
<rect x="1255.5" y="701.5" width="39" height="48" fill="#66ff99" stroke="#000" stroke-width="1"/>
<rect x="1255.5" y="653.5" width="39" height="48" fill="#4dff80" stroke="#000" stroke-width="1"/>
<rect x="1255.5" y="605.5" width="39" height="48" fill="#1aff4d" stroke="#000" stroke-width="1"/>
<rect x="1255.5" y="557.5" width="39" height="48" fill="#00ff00" stroke="#000" stroke-width="1"/>
<rect x="1255.5" y="510.5" width="39" height="47" fill="#0dcc33" stroke="#000" stroke-width="1"/>
<rect x="1255.5" y="462.5" width="39" height="48" fill="#0db366" stroke="#000" stroke-width="1"/>
<rect x="1255.5" y="414.5" width="39" height="48" fill="#0d9999" stroke="#000" stroke-width="1"/>
<rect x="1255.5" y="366.5" width="39" height="48" fill="#0d66f2" stroke="#000" stroke-width="1"/>
<rect x="1255.5" y="318.5" width="39" height="48" fill="#0033f2" stroke="#000" stroke-width="1"/>
<rect x="1255.5" y="270.5" width="39" height="48" fill="#0000cc" stroke="#000" stroke-width="1"/>
</g>
<text y="60.6" font-size="43.6" stroke="#fff" stroke-width="2.2"><tspan x="282.71" textLength="106.46" lengthAdjust="spacingAndGlyphs">CASA</tspan> <tspan x="414.77" textLength="81.46" lengthAdjust="spacingAndGlyphs">DFW</tspan> <tspan x="522.1" letter-spacing="1.04">400m</tspan> <tspan x="659.2" letter-spacing="1.35">(450x480x25,</tspan> <tspan x="963.77" letter-spacing="2.14">dx=0.4</tspan> <tspan x="1130.16" letter-spacing="2.6">km)</tspan></text>
<text y="117.6" font-size="43.6" stroke="#fff" stroke-width="2.2"><tspan x="385.82" textLength="158.12" lengthAdjust="spacingAndGlyphs">Analysis</tspan> <tspan x="570.28" letter-spacing="1.83">for</tspan> <tspan x="648.19" textLength="72.52" lengthAdjust="spacingAndGlyphs">18Z</tspan> <tspan x="747.21" textLength="68.22" lengthAdjust="spacingAndGlyphs">Thu</tspan> <tspan x="841.9" letter-spacing="2.78">04</tspan> <tspan x="918.26" textLength="65.79" lengthAdjust="spacingAndGlyphs">Jan</tspan> <tspan x="1010.92" textLength="96.26" lengthAdjust="spacingAndGlyphs">2018</tspan></text>
<text y="183.45" font-size="26" stroke="#fff" stroke-width="0.9"><tspan x="639.52" letter-spacing="1.29">Z=2.000</tspan> <tspan x="757.4" letter-spacing="1.71">km</tspan> <tspan x="810.51" textLength="44.79" lengthAdjust="spacingAndGlyphs">AGL</tspan></text>
<text y="226.45" font-size="26" stroke="#fff" stroke-width="0.9"><tspan x="440.77" letter-spacing="1.43">18:45</tspan> <tspan x="526.82">Z</tspan> <tspan x="556.41" textLength="41.65" lengthAdjust="spacingAndGlyphs">Thu</tspan> <tspan x="613.03" letter-spacing="2.16">04</tspan> <tspan x="660.17" textLength="38.95" lengthAdjust="spacingAndGlyphs">Jan</tspan> <tspan x="715.24" letter-spacing="0.03">2018</tspan> <tspan x="818.37" letter-spacing="0.77">T=0.0</tspan> <tspan x="905.23">s</tspan> <tspan x="930.94" letter-spacing="2.18">(0:00:00)</tspan></text>
<text y="1335.95" font-size="26" stroke="#fff" stroke-width="0.9"><tspan x="220.45" textLength="33.49" lengthAdjust="spacingAndGlyphs">RH</tspan> <tspan x="268.84" textLength="36.61" lengthAdjust="spacingAndGlyphs">(%,</tspan> <tspan x="318.67" letter-spacing="0.17">Shaded)</tspan></text>
<text x="727.91" y="1335.95" textLength="49.79" lengthAdjust="spacingAndGlyphs" font-size="26" stroke="#fff" stroke-width="0.9">(km)</text>
<text y="1335.95" font-size="26" stroke="#fff" stroke-width="0.9"><tspan x="997.02" letter-spacing="0.44">Min=0.180</tspan> <tspan x="1135.72" letter-spacing="0.83">Max=0.776</tspan></text>
<text y="1365.25" font-size="26" stroke="#fff" stroke-width="0.9"><tspan x="222.17">T</tspan> <tspan x="249.54" letter-spacing="0.35">(C,</tspan> <tspan x="299.15" letter-spacing="1.15">contour)</tspan></text>
<text y="1365.25" font-size="26" stroke="#fff" stroke-width="0.9"><tspan x="772.52" letter-spacing="1.81">Min=-.6070E-01</tspan> <tspan x="997.72" letter-spacing="0.89">Max=2.579</tspan> <tspan x="1149.51" letter-spacing="1.21">inc=2.000</tspan></text>
<text x="261.83" y="1292.75" font-size="26" stroke="#fff" stroke-width="0.9">0</text>
<text x="360.14" y="1292.75" letter-spacing="1.6" font-size="26" stroke="#fff" stroke-width="0.9">20</text>
<text x="467.05" y="1292.75" letter-spacing="0.69" font-size="26" stroke="#fff" stroke-width="0.9">40</text>
<text x="572.53" y="1292.75" letter-spacing="1.52" font-size="26" stroke="#fff" stroke-width="0.9">60</text>
<text x="678.92" y="1292.75" letter-spacing="1.33" font-size="26" stroke="#fff" stroke-width="0.9">80</text>
<text x="776.97" y="1292.75" letter-spacing="0.61" font-size="26" stroke="#fff" stroke-width="0.9">100</text>
<text x="884.27" y="1292.75" textLength="43.29" lengthAdjust="spacingAndGlyphs" font-size="26" stroke="#fff" stroke-width="0.9">120</text>
<text x="990.37" y="1292.75" letter-spacing="0.01" font-size="26" stroke="#fff" stroke-width="0.9">140</text>
<text x="1095.97" y="1292.75" letter-spacing="0.51" font-size="26" stroke="#fff" stroke-width="0.9">160</text>
<text x="1201.57" y="1292.75" letter-spacing="1.06" font-size="26" stroke="#fff" stroke-width="0.9">180</text>
<text x="240.03" y="1268.65" font-size="26" stroke="#fff" stroke-width="0.9">0</text>
<text x="224.34" y="1162.65" letter-spacing="1.5" font-size="26" stroke="#fff" stroke-width="0.9">20</text>
<text x="225.05" y="1056.65" letter-spacing="0.79" font-size="26" stroke="#fff" stroke-width="0.9">40</text>
<text x="224.33" y="950.65" letter-spacing="1.52" font-size="26" stroke="#fff" stroke-width="0.9">60</text>
<text x="224.52" y="843.65" letter-spacing="1.33" font-size="26" stroke="#fff" stroke-width="0.9">80</text>
<text x="209.87" y="737.65" letter-spacing="0.76" font-size="26" stroke="#fff" stroke-width="0.9">100</text>
<text x="209.87" y="631.65" letter-spacing="0.76" font-size="26" stroke="#fff" stroke-width="0.9">120</text>
<text x="209.87" y="525.65" letter-spacing="0.76" font-size="26" stroke="#fff" stroke-width="0.9">140</text>
<text x="209.87" y="418.65" letter-spacing="0.76" font-size="26" stroke="#fff" stroke-width="0.9">160</text>
<text x="209.87" y="312.65" letter-spacing="0.76" font-size="26" stroke="#fff" stroke-width="0.9">180</text>
<text x="1299.22" y="1236.45" letter-spacing="1.53" font-size="29" stroke="#fff" stroke-width="0.9">0.0</text>
<text x="1299.22" y="1140.65" letter-spacing="0.31" font-size="29" stroke="#fff" stroke-width="0.9">0.10</text>
<text x="1299.22" y="1044.85" letter-spacing="1.64" font-size="29" stroke="#fff" stroke-width="0.9">0.20</text>
<text x="1299.22" y="949.05" letter-spacing="1.64" font-size="29" stroke="#fff" stroke-width="0.9">0.30</text>
<text x="1299.22" y="853.25" letter-spacing="1.64" font-size="29" stroke="#fff" stroke-width="0.9">0.40</text>
<text x="1299.22" y="757.45" letter-spacing="1.64" font-size="29" stroke="#fff" stroke-width="0.9">0.50</text>
<text x="1299.22" y="661.65" letter-spacing="1.64" font-size="29" stroke="#fff" stroke-width="0.9">0.60</text>
<text x="1299.22" y="565.85" letter-spacing="1.64" font-size="29" stroke="#fff" stroke-width="0.9">0.70</text>
<text x="1299.22" y="470.05" letter-spacing="1.64" font-size="29" stroke="#fff" stroke-width="0.9">0.80</text>
<text x="1299.22" y="374.25" letter-spacing="1.64" font-size="29" stroke="#fff" stroke-width="0.9">0.90</text>
<text x="1298.5" y="283.45" textLength="22.4" lengthAdjust="spacingAndGlyphs" font-size="29" stroke="#fff" stroke-width="0.9">1.</text>
<text x="-1.93" y="0" textLength="47.87" lengthAdjust="spacingAndGlyphs" font-size="26" stroke="#fff" stroke-width="0.9" transform="translate(176.4,768) rotate(-90) scale(1,0.88)">(km)</text>
</svg>
</body></html>
